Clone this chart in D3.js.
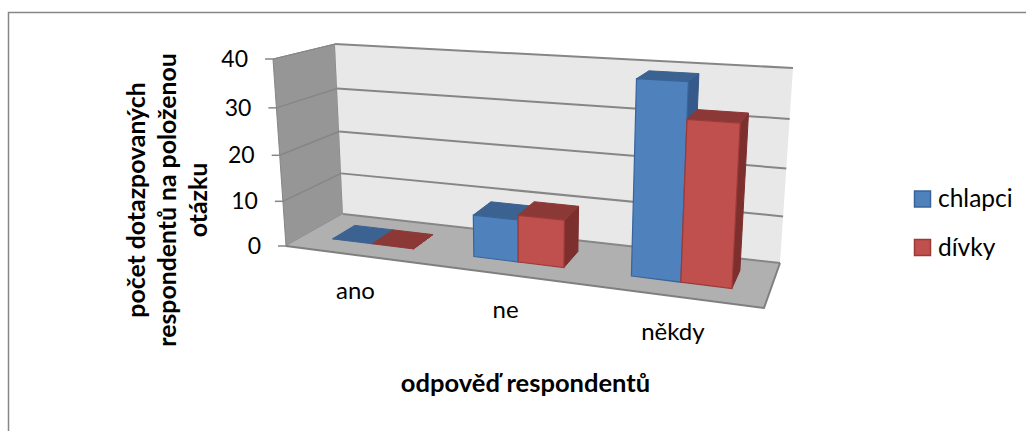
<!DOCTYPE html>
<html><head><meta charset="utf-8">
<script src="https://cdn.jsdelivr.net/npm/d3@7"></script>
<style>html,body{margin:0;padding:0;background:#fff}svg{display:block}text{font-family:Lato,"Open Sans",sans-serif;fill:#000}</style>
</head><body><div id="c"></div>
<script>
const categories = ["ano","ne","někdy"];
const seriesNames = ["chlapci","dívky"];
const chlapci = [0,9,39];
const divky = [0,10,32];
const yTicks = [0,10,20,30,40];
const yTitle = ["počet dotazpovaných","respondentů na položenou","otázku"];
const xTitle = "odpověď respondentů";

const W=1026,H=431;
const svg=d3.select("#c").append("svg").attr("width",W).attr("height",H);
svg.append("path").attr("d",`M8.5,${H}V12.5H${W}`).attr("fill","none").attr("stroke","#868686").attr("stroke-width",1.5);

// corners of the 3D box
const FL0=[286,246],FR0=[764,308],BL0=[343,214],BR0=[780,263];
const FL1=[273,59],FR1=[776,88],BL1=[335,44],BR1=[793,68];
const lerp=(a,b,t)=>[a[0]+(b[0]-a[0])*t,a[1]+(b[1]-a[1])*t];
const xS=d3.scaleBand().domain(categories).range([0,1]);
const yS=d3.scaleLinear().domain([0,40]).range([0,1]);
const persp=(s,b)=>s*(1+b)/(1+b*s);
function P(s,v,d){
  const u=persp(s,-0.15), t=persp(yS(v),-0.058);
  const f=lerp(lerp(FL0,BL0,d),lerp(FR0,BR0,d),u);
  const c=lerp(lerp(FL1,BL1,d),lerp(FR1,BR1,d),u);
  return lerp(f,c,t);
}
const poly=pts=>"M"+pts.map(p=>p[0].toFixed(1)+","+p[1].toFixed(1)).join("L")+"Z";
const grid="#868686";
svg.append("path").attr("d",poly([FL1,BL1,BL0,FL0])).attr("fill","#969696").attr("stroke",grid);
svg.append("path").attr("d",poly([BL1,BR1,BR0,BL0])).attr("fill","#e8e8e8");
svg.append("path").attr("d",poly([FL0,BL0,BR0,FR0])).attr("fill","#b0b0b0");
svg.append("path").attr("d",`M${FL0}L${FR0}L${BR0}`).attr("fill","none").attr("stroke","#7f7f7f").attr("stroke-width",2);
yTicks.forEach(v=>{
  const a=P(0,v,0),b=P(0,v,1),c=P(1,v,1);
  svg.append("path").attr("d",`M${a}L${b}`).attr("fill","none").attr("stroke",v===0?"none":grid).attr("stroke-width",v===40?1:1.5);
  svg.append("path").attr("d",`M${b}L${c}`).attr("fill","none").attr("stroke",grid).attr("stroke-width",2);
  svg.append("path").attr("d",`M${a[0]-8},${a[1]}L${a}`).attr("fill","none").attr("stroke",grid).attr("stroke-width",1.5);
  svg.append("text").attr("x",a[0]-25).attr("y",a[1]).attr("dy","0.35em").attr("text-anchor","end").attr("font-size",23).text(v);
});
const barW=0.0975, D0=0.33, D1=0.74;
const styles=[{f:"#4f81bd",t:"#3b6290",s:"#34598a",e:"#38649a"},{f:"#c0504d",t:"#8c3836",s:"#7d2f2d",e:"#9c3a38"}];
const series=[chlapci,divky];
categories.forEach((cat,i)=>{
  const sc=xS(cat)+xS.bandwidth()/2;
  series.forEach((vals,k)=>{
    const s0=sc+(k-1)*barW, s1=s0+barW, v=vals[i], st=styles[k];
    const g=svg.append("g");
    g.append("path").attr("d",poly([P(s1,0,D0),P(s1,0,D1),P(s1,v,D1),P(s1,v,D0)])).attr("fill",st.s).attr("stroke",st.s);
    g.append("path").attr("d",poly([P(s0,v,D0),P(s0,v,D1),P(s1,v,D1),P(s1,v,D0)])).attr("fill",st.t).attr("stroke",st.t);
    if(v>0) g.append("path").attr("d",poly([P(s0,0,D0),P(s1,0,D0),P(s1,v,D0),P(s0,v,D0)])).attr("fill",st.f).attr("stroke",st.e).attr("stroke-width",1.2);
  });
  const p=P(sc,0,0);
  svg.append("text").attr("x",p[0]).attr("y",p[1]+44).attr("text-anchor","middle").attr("font-size",24).text(cat);
});
seriesNames.forEach((n,k)=>{
  const y=[199,247.5][k], st=styles[k];
  svg.append("rect").attr("x",914.5).attr("y",y-8).attr("width",16).attr("height",16).attr("fill",st.f).attr("stroke",st.e).attr("stroke-width",1.5);
  svg.append("text").attr("x",938).attr("y",y+8).attr("font-size",24.5).text(n);
});
yTitle.forEach((l,k)=>{
  svg.append("text").attr("transform",`translate(${[145,176,207][k]},200) rotate(-90)`).attr("text-anchor","middle").attr("font-size",24.8).attr("font-weight",700).text(l);
});
svg.append("text").attr("x",525.5).attr("y",392).attr("text-anchor","middle").attr("font-size",25.5).attr("font-weight",700).text(xTitle);
</script></body></html>
